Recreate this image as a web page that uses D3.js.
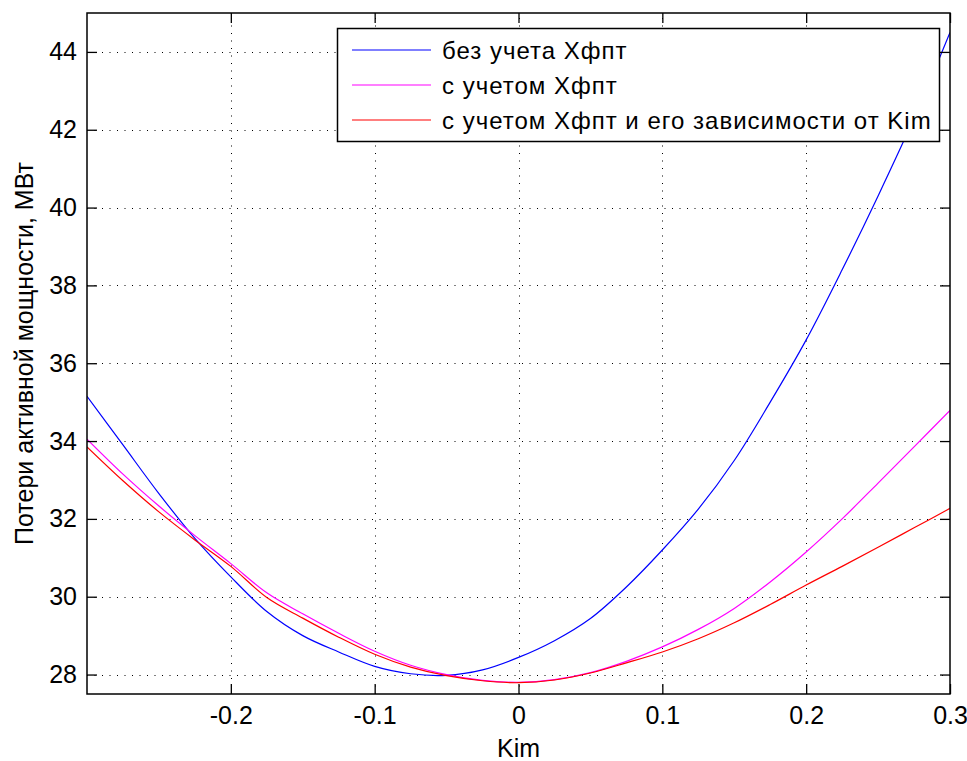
<!DOCTYPE html>
<html>
<head>
<meta charset="utf-8">
<script src="https://cdn.jsdelivr.net/npm/d3@7"></script>
<style>
  html, body { margin: 0; padding: 0; background: #fff; }
  svg { display: block; }
  text { font-family: "Liberation Sans", Arial, Helvetica, sans-serif; fill: #000; }
</style>
</head>
<body>
<svg id="chart" width="967" height="761"></svg>
<script>
// ---- data ----
const kim = [-0.300, -0.275, -0.250, -0.225, -0.200, -0.175, -0.150, -0.125, -0.100, -0.075, -0.050, -0.025,
             0.000, 0.025, 0.050, 0.075, 0.100, 0.125, 0.150, 0.175, 0.200, 0.225, 0.250, 0.275, 0.300];
const lossNoX = [35.15, 33.9, 32.65, 31.5, 30.51, 29.62, 29.0, 28.58, 28.21, 28.02, 27.98, 28.12,
                 28.44, 28.87, 29.44, 30.25, 31.2, 32.25, 33.5, 35.0, 36.6, 38.4, 40.3, 42.3, 44.5];
const lossWithX = [34.05, 33.15, 32.33, 31.57, 30.85, 30.1, 29.56, 29.06, 28.6, 28.24, 28.0, 27.85,
                   27.8, 27.87, 28.05, 28.34, 28.71, 29.16, 29.7, 30.38, 31.15, 32.0, 32.92, 33.85, 34.79];
const lossWithXKim = [33.85, 32.98, 32.18, 31.46, 30.78, 29.98, 29.45, 28.96, 28.52, 28.19, 27.97, 27.84,
                      27.79, 27.86, 28.04, 28.3, 28.58, 28.92, 29.33, 29.8, 30.3, 30.78, 31.27, 31.77, 32.27];
const seriesNames = ["без учета Хфпт", "с учетом Хфпт", "с учетом Хфпт и его зависимости от Kim"];
const seriesColors = ["#0000ff", "#ff00ff", "#ff0000"];
const xTicks = [-0.2, -0.1, 0, 0.1, 0.2, 0.3];
const yTicks = [28, 30, 32, 34, 36, 38, 40, 42, 44];
const xLabel = "Kim";
const yLabel = "Потери активной мощности, МВт";

// ---- layout ----
const L = 87, R = 950, T = 13, B = 694;
const svg = d3.select("#chart");
const x = d3.scaleLinear().domain([-0.3, 0.3]).range([L, R]);
const y = d3.scaleLinear().domain([27.5, 45]).range([B, T]);

// grid
const grid = svg.append("g").attr("stroke", "#000").attr("stroke-width", 1).attr("stroke-dasharray", "1,6.5");
grid.selectAll("line.gx").data(xTicks.filter(d => x(d) < R - 1)).enter().append("line")
  .attr("x1", d => Math.round(x(d)) + 0.5).attr("x2", d => Math.round(x(d)) + 0.5)
  .attr("y1", B).attr("y2", T);
grid.selectAll("line.gy").data(yTicks).enter().append("line")
  .attr("y1", d => Math.round(y(d)) + 0.5).attr("y2", d => Math.round(y(d)) + 0.5)
  .attr("x1", L).attr("x2", R);

// curves
svg.append("clipPath").attr("id", "clip").append("rect")
  .attr("x", L).attr("y", T).attr("width", R - L).attr("height", B - T);
const series = [lossNoX, lossWithX, lossWithXKim];
const line = d3.line().x((d, i) => x(kim[i])).y(d => y(d)).curve(d3.curveCatmullRom.alpha(0.5));
svg.append("g").attr("clip-path", "url(#clip)")
  .selectAll("path").data(series).enter().append("path")
  .attr("d", line).attr("fill", "none")
  .attr("stroke", (d, i) => seriesColors[i]).attr("stroke-width", 1.2);

// axes
const tickLen = 10;
const fmt = d => String(d);
function styleAxis(g) {
  g.select(".domain").remove();
  g.selectAll(".tick line").attr("stroke", "#000").attr("stroke-width", 1.3);
  g.selectAll(".tick text").attr("font-size", 25).attr("fill", "#000")
    .attr("font-family", '"Liberation Sans", Arial, sans-serif');
}
svg.append("g").attr("transform", `translate(0,${B})`)
  .call(d3.axisBottom(x).tickValues(xTicks).tickSize(-tickLen).tickPadding(12).tickFormat(fmt))
  .call(styleAxis);
svg.append("g").attr("transform", `translate(0,${T})`)
  .call(d3.axisTop(x).tickValues(xTicks).tickSize(-tickLen).tickFormat(""))
  .call(styleAxis);
svg.append("g").attr("transform", `translate(${L},0)`)
  .call(d3.axisLeft(y).tickValues(yTicks).tickSize(-tickLen).tickPadding(10).tickFormat(fmt))
  .call(styleAxis);
svg.append("g").attr("transform", `translate(${R},0)`)
  .call(d3.axisRight(y).tickValues(yTicks).tickSize(-tickLen).tickFormat(""))
  .call(styleAxis);

// box
svg.append("rect").attr("x", L).attr("y", T).attr("width", R - L).attr("height", B - T)
  .attr("fill", "none").attr("stroke", "#000").attr("stroke-width", 1.5);

// axis labels
svg.append("text").attr("x", (L + R) / 2).attr("y", 757).attr("text-anchor", "middle")
  .attr("font-size", 25).text(xLabel);
svg.append("text").attr("transform", `translate(33,${(T + B) / 2}) rotate(-90)`)
  .attr("text-anchor", "middle").attr("font-size", 25).text(yLabel);

// legend
const lg = svg.append("g");
lg.append("rect").attr("x", 337.5).attr("y", 28.5).attr("width", 602).attr("height", 113)
  .attr("fill", "#fff").attr("stroke", "#000").attr("stroke-width", 1.5);
const items = lg.selectAll("g.item").data(seriesNames).enter().append("g")
  .attr("transform", (d, i) => `translate(0,${50 + i * 35})`);
items.append("line").attr("x1", 352).attr("x2", 431).attr("y1", 0).attr("y2", 0)
  .attr("stroke", (d, i) => seriesColors[i]).attr("stroke-width", 1.2);
items.append("text").attr("x", 442).attr("y", 0).attr("dy", "0.36em")
  .attr("font-size", 24).attr("letter-spacing", 1.0).text(d => d);
</script>
</body>
</html>
